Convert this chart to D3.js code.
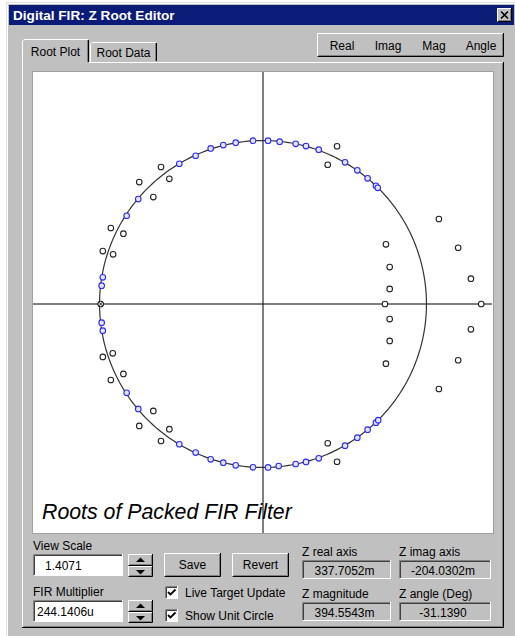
<!DOCTYPE html>
<html>
<head>
<meta charset="utf-8">
<script src="https://cdn.jsdelivr.net/npm/d3@7"></script>
<style>
html, body { margin: 0; padding: 0; background: #fff; }
svg { display: block; }
text { font-family: "Liberation Sans", Arial, sans-serif; }
</style>
</head>
<body>
<svg id="chart" width="515" height="636"></svg>
<script>
// window texts
const windowTitle = "Digital FIR: Z Root Editor"
const tabLabels = ["Root Plot", "Root Data"]
const columnLabels = ["Real", "Imag", "Mag", "Angle"]
const plotCaption = "Roots of Packed FIR Filter"
const viewScale = 1.4071

// roots on the unit circle (blue)
const onRe = [-0.980, -0.987, -0.834, -0.763, -0.512, -0.412, -0.320, -0.243, -0.167, -0.061,
  0.031, 0.102, 0.200, 0.263, 0.341, 0.502, 0.577, 0.640, 0.691, 0.702,
  -0.987, -0.980, -0.834, -0.763, -0.512, -0.412, -0.320, -0.243, -0.167, -0.061,
  0.031, 0.096, 0.200, 0.263, 0.341, 0.502, 0.577, 0.640, 0.691, 0.705]
const onIm = [0.163, 0.112, 0.540, 0.642, 0.858, 0.907, 0.952, 0.972, 0.987, 0.999,
  0.999, 0.993, 0.980, 0.966, 0.944, 0.867, 0.818, 0.769, 0.723, 0.711,
  -0.114, -0.163, -0.543, -0.642, -0.858, -0.909, -0.950, -0.971, -0.987, -0.999,
  -1.000, -0.991, -0.979, -0.966, -0.944, -0.867, -0.818, -0.769, -0.726, -0.711]

// roots off the unit circle (black)
const offRe = [-0.624, -0.757, -0.573, -0.671, -0.931, -0.854, -0.980, -0.917, 0.453, 0.396,
  1.076, 0.752, 1.194, 0.775, 1.272, 0.775, 0.746, 1.335, -0.993,
  -0.919, -0.980, -0.854, -0.931, -0.671, -0.573, -0.757, -0.624, 0.396, 0.453,
  0.775, 0.775, 0.752, 1.272, 1.194, 1.076]
const offIm = [0.838, 0.746, 0.766, 0.654, 0.465, 0.430, 0.324, 0.304, 0.965, 0.852,
  0.520, 0.365, 0.344, 0.226, 0.155, 0.092, 0, 0, 0,
  -0.302, -0.324, -0.428, -0.465, -0.654, -0.766, -0.746, -0.838, -0.852, -0.965,
  -0.092, -0.226, -0.365, -0.155, -0.344, -0.520]

// selected root (drawn with a cross)
const markRe = [-0.993]
const markIm = [0]

// readouts
const readLabels = ["Z real axis", "Z imag axis", "Z magnitude", "Z angle (Deg)"]
const readValues = ["337.7052m", "-204.0302m", "394.5543m", "-31.1390"]

const svg = d3.select("#chart")
const face = "#c0c0c0", shade = "#808080", dark = "#000000", hi = "#ffffff"

function box(g, x, y, w, h, raised, fill) {
  g.append("rect").attr("x", x).attr("y", y).attr("width", w).attr("height", h).attr("fill", fill || face)
  let a = raised ? hi : shade, b = raised ? dark : hi
  g.append("path").attr("d", `M${x + .5},${y + h}V${y + .5}H${x + w}`).attr("stroke", a).attr("fill", "none")
  g.append("path").attr("d", `M${x + .5},${y + h - .5}H${x + w - .5}V${y}`).attr("stroke", b).attr("fill", "none")
  if (raised) {
    g.append("path").attr("d", `M${x + 1.5},${y + h - 1.5}H${x + w - 1.5}V${y + 1}`).attr("stroke", shade).attr("fill", "none")
  } else {
    g.append("path").attr("d", `M${x + 1.5},${y + h - 1}V${y + 1.5}H${x + w - 1}`).attr("stroke", "#404040").attr("fill", "none")
  }
}

function label(g, x, y, t, anchor) {
  return g.append("text").attr("x", x).attr("y", y).attr("font-size", 12)
    .attr("fill", "#000").attr("text-anchor", anchor || "start").text(t)
}

// window frame + title
svg.append("rect").attr("x", 6).attr("y", 2).attr("width", 509).attr("height", 634).attr("fill", face)
svg.append("path").attr("d", "M6.5,636V2.5H515").attr("stroke", "#dfdfdf").attr("fill", "none")
svg.append("path").attr("d", "M7.5,636V3.5H515").attr("stroke", hi).attr("fill", "none")
svg.append("rect").attr("x", 9).attr("y", 5).attr("width", 505).attr("height", 20).attr("fill", "#0b1b78")
svg.append("text").attr("x", 13).attr("y", 20).attr("font-size", 13.6).attr("font-weight", "bold")
  .attr("fill", "#fff").text(windowTitle)
const cls = svg.append("g")
box(cls, 497, 8, 15, 14, true)
cls.append("path").attr("d", "M501,11.5L508,18.5M508,11.5L501,18.5").attr("stroke", "#000").attr("stroke-width", 1.6)

// tab panel
const panel = svg.append("g")
panel.append("path").attr("d", "M22.5,628V62.5H503").attr("stroke", hi).attr("fill", "none")
panel.append("path").attr("d", "M22,627.5H503.5V62").attr("stroke", dark).attr("fill", "none")
panel.append("path").attr("d", "M23,626.5H502.5V63").attr("stroke", shade).attr("fill", "none")

// tabs
const tabX = [22, 90], tabW = [68, 68]
tabLabels.forEach((t, i) => {
  let x = tabX[i], top = i === 0 ? 39 : 42, bot = i === 0 ? 63 : 62
  let g = panel.append("g")
  g.append("rect").attr("x", x).attr("y", top).attr("width", tabW[i] - 1).attr("height", bot - top).attr("fill", face)
  g.append("path").attr("d", `M${x + .5},${bot}V${top + 2}l2,-1.5H${x + tabW[i] - 2}`).attr("stroke", hi).attr("fill", "none")
  g.append("path").attr("d", `M${x + tabW[i] - 1.5},${top + 1}V${bot - 1}`).attr("stroke", dark).attr("fill", "none")
  g.append("path").attr("d", `M${x + tabW[i] - 2.5},${top + 1}V${bot - 1}`).attr("stroke", shade).attr("fill", "none")
  label(g, x + (tabW[i] - 1) / 2, i === 0 ? 56 : 57, t, "middle")
})

// column header strip
const hdr = svg.append("g")
box(hdr, 317, 33, 187, 24, true)
const colX = [342, 388, 434, 481]
columnLabels.forEach((t, i) => label(hdr, colX[i], 50, t, "middle"))

// plot area
const plotL = 33, plotT = 72, plotR = 493, plotB = 533
svg.append("rect").attr("x", plotL - 1).attr("y", plotT - 1).attr("width", plotR - plotL + 2).attr("height", plotB - plotT + 2).attr("fill", "#a0a0a0")
svg.append("rect").attr("x", plotL).attr("y", plotT).attr("width", plotR - plotL).attr("height", plotB - plotT).attr("fill", "#fff")

const x = d3.scaleLinear().domain([-viewScale, viewScale]).range([33, 493])
const y = d3.scaleLinear().domain([-viewScale, viewScale]).range([534, 74])

svg.append("clipPath").attr("id", "clip").append("rect")
  .attr("x", plotL).attr("y", plotT).attr("width", plotR - plotL).attr("height", plotB - plotT)
const plot = svg.append("g").attr("clip-path", "url(#clip)")

// axes
plot.append("line").attr("x1", plotL).attr("x2", plotR - 1).attr("y1", y(0)).attr("y2", y(0))
  .attr("stroke", "#000").attr("stroke-width", 1)
plot.append("line").attr("x1", x(0)).attr("x2", x(0)).attr("y1", plotT).attr("y2", plotB)
  .attr("stroke", "#000").attr("stroke-width", 1)

// unit circle
const circ = d3.range(0, 361).map(a => [Math.cos(a * Math.PI / 180), Math.sin(a * Math.PI / 180)])
plot.append("path").datum(circ)
  .attr("d", d3.line().x(d => x(d[0])).y(d => y(d[1])))
  .attr("fill", "none").attr("stroke", "#333").attr("stroke-width", 1.2)

// roots
const offPts = offRe.map((r, i) => [r, offIm[i]])
const onPts = onRe.map((r, i) => [r, onIm[i]])
plot.selectAll(".off").data(offPts).join("circle").attr("class", "off")
  .attr("cx", d => x(d[0])).attr("cy", d => y(d[1])).attr("r", 2.8)
  .attr("fill", "#fff").attr("stroke", "#222").attr("stroke-width", 1.1)
plot.selectAll(".on").data(onPts).join("circle").attr("class", "on")
  .attr("cx", d => x(d[0])).attr("cy", d => y(d[1])).attr("r", 2.8)
  .attr("fill", "#e4e6ff").attr("stroke", "#2a2aff").attr("stroke-width", 1.1)
markRe.forEach((r, i) => {
  let cx = x(r), cy = y(markIm[i])
  plot.append("path").attr("d", `M${cx - 2},${cy - 2}L${cx + 2},${cy + 2}M${cx + 2},${cy - 2}L${cx - 2},${cy + 2}`)
    .attr("stroke", "#222").attr("stroke-width", 1)
})

plot.append("text").attr("x", 42).attr("y", 519).attr("font-size", 21.3).attr("font-style", "italic")
  .attr("fill", "#000").text(plotCaption)

// controls
const ctl = svg.append("g")
function spin(g, x0, y0) {
  box(g, x0, y0, 25, 12, true)
  box(g, x0, y0 + 12, 25, 11, true)
  g.append("path").attr("d", `M${x0 + 8},${y0 + 8}h9l-4.5,-4.5z`).attr("fill", "#000")
  g.append("path").attr("d", `M${x0 + 8},${y0 + 16}h9l-4.5,4.5z`).attr("fill", "#000")
}
label(ctl, 33, 550, "View Scale")
box(ctl, 33, 554, 90, 22, false, "#fff")
label(ctl, 45, 570, viewScale.toFixed(4))
spin(ctl, 128, 554)
label(ctl, 33, 596, "FIR Multiplier")
box(ctl, 33, 600, 90, 22, false, "#fff")
label(ctl, 37, 616, "244.1406u")
spin(ctl, 128, 600)

box(ctl, 164, 553, 57, 24, true)
label(ctl, 192.5, 569, "Save", "middle")
box(ctl, 232, 553, 57, 24, true)
label(ctl, 260.5, 569, "Revert", "middle")

const checks = ["Live Target Update", "Show Unit Circle"]
checks.forEach((t, i) => {
  let cy = 586 + i * 23
  box(ctl, 165, cy, 13, 13, false, "#fff")
  ctl.append("path").attr("d", `M168,${cy + 6}l2.5,2.5l5,-5`).attr("stroke", "#000").attr("stroke-width", 1.8).attr("fill", "none")
  label(ctl, 185, cy + 11, t)
})

const rdX = [302, 399], rdW = [89, 92], rdY = [556, 598]
readLabels.forEach((t, i) => {
  let c = i % 2, r = Math.floor(i / 2)
  label(ctl, rdX[c], rdY[r], t)
  box(ctl, rdX[c], rdY[r] + 4, rdW[c], 19, false, face)
  label(ctl, rdX[c] + rdW[c] / 2 - 2, rdY[r] + 19, readValues[i], "middle")
})
</script>
</body>
</html>
